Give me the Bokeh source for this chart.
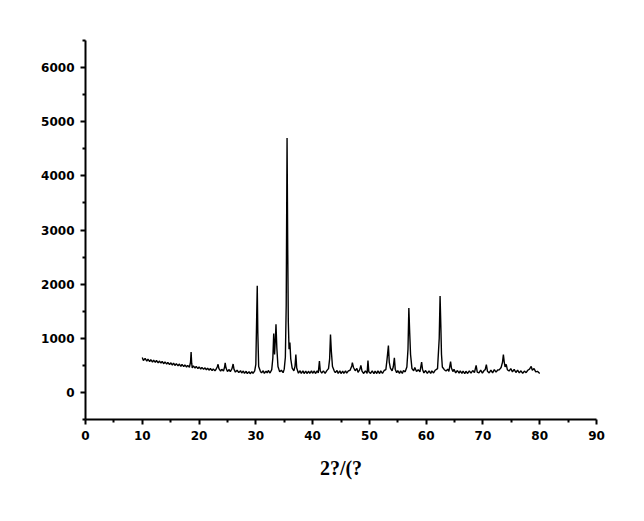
from bokeh.plotting import figure
from bokeh.models import Range1d, FixedTicker
from bokeh.embed import file_html
from bokeh.resources import INLINE

# XRD pattern: 2-theta (degrees) vs intensity (counts)
two_theta = [
    10.0, 10.2, 10.5, 10.8, 11.0, 11.3, 11.5, 11.8, 12.0, 12.3, 12.5, 12.8, 13.0, 13.3, 13.5, 13.8,
    14.0, 14.3, 14.5, 14.8, 15.0, 15.3, 15.5, 15.8, 16.0, 16.3, 16.5, 16.8, 17.0, 17.3, 17.5, 17.8,
    18.0, 18.3, 18.5, 18.6, 18.7, 18.8, 19.0, 19.3, 19.5, 19.8, 20.0, 20.3, 20.5, 20.8, 21.0, 21.3,
    21.5, 21.8, 22.0, 22.3, 22.5, 22.8, 23.0, 23.2, 23.35, 23.5, 23.8, 24.0, 24.3, 24.5, 24.6, 24.75,
    25.0, 25.3, 25.5, 25.8, 26.0, 26.15, 26.4, 26.7, 27.0, 27.3, 27.5, 27.8, 28.0, 28.3, 28.5, 28.8,
    29.0, 29.3, 29.5, 29.8, 30.0, 30.15, 30.25, 30.35, 30.5, 30.8, 31.0, 31.3, 31.5, 31.8, 32.0, 32.2,
    32.5, 32.8, 33.0, 33.15, 33.3, 33.45, 33.55, 33.7, 33.9, 34.2, 34.5, 34.8, 35.0, 35.2, 35.35, 35.5,
    35.62, 35.72, 35.85, 36.0, 36.15, 36.4, 36.7, 36.9, 37.05, 37.2, 37.5, 37.8, 38.0, 38.3, 38.5, 38.8,
    39.0, 39.3, 39.5, 39.8, 40.0, 40.3, 40.5, 40.8, 41.0, 41.2, 41.35, 41.6, 41.9, 42.2, 42.5, 42.8,
    43.0, 43.15, 43.3, 43.5, 43.8, 44.0, 44.3, 44.5, 44.8, 45.0, 45.3, 45.5, 45.8, 46.0, 46.3, 46.6,
    46.9, 47.0, 47.2, 47.5, 47.8, 48.0, 48.3, 48.5, 48.7, 49.0, 49.3, 49.6, 49.75, 49.9, 50.2, 50.5,
    50.8, 51.0, 51.3, 51.5, 51.8, 52.0, 52.3, 52.6, 52.9, 53.1, 53.35, 53.5, 53.7, 54.0, 54.2, 54.4,
    54.55, 54.8, 55.0, 55.3, 55.5, 55.8, 56.0, 56.3, 56.6, 56.8, 56.95, 57.1, 57.25, 57.5, 57.8, 58.0,
    58.3, 58.6, 58.9, 59.2, 59.35, 59.6, 59.9, 60.2, 60.5, 60.8, 61.0, 61.3, 61.6, 62.0, 62.3, 62.45,
    62.58, 62.7, 62.85, 63.2, 63.5, 63.8, 64.0, 64.3, 64.45, 64.7, 64.9, 65.2, 65.5, 65.8, 66.0, 66.3,
    66.5, 66.8, 67.0, 67.3, 67.6, 67.9, 68.2, 68.5, 68.8, 69.0, 69.3, 69.6, 69.9, 70.2, 70.4, 70.6,
    70.8, 71.1, 71.4, 71.7, 72.0, 72.3, 72.6, 72.9, 73.2, 73.45, 73.6, 73.75, 73.9, 74.1, 74.3, 74.6,
    74.9, 75.2, 75.5, 75.8, 76.1, 76.4, 76.7, 77.0, 77.3, 77.6, 77.9, 78.2, 78.5, 78.7, 79.0, 79.3,
    79.6, 80.0,
]
intensity = [
    645, 590, 630, 580, 615, 570, 605, 560, 595, 555, 590, 545, 580, 540, 572, 530,
    565, 522, 555, 512, 548, 505, 540, 498, 532, 490, 525, 482, 518, 475, 510, 470,
    500, 465, 560, 745, 540, 455, 492, 448, 482, 440, 472, 432, 462, 425, 455, 418,
    450, 410, 442, 402, 435, 398, 428, 470, 520, 440, 392, 428, 395, 470, 545, 450,
    388, 422, 382, 440, 525, 430, 375, 410, 365, 402, 358, 395, 352, 390, 348, 385,
    345, 382, 350, 400, 520, 1400, 1970, 1100, 480, 390, 360, 400, 352, 395, 360, 405,
    358, 420, 640, 1090, 700, 1000, 1260, 820, 480, 380, 410, 365, 430, 650, 1600, 4700,
    2620, 1300, 800, 920, 620, 450, 400, 480, 700, 450, 355, 400, 352, 398, 350, 395,
    348, 392, 350, 398, 355, 395, 348, 400, 360, 580, 400, 355, 398, 350, 402, 440,
    620, 1070, 760, 480, 400, 365, 405, 352, 398, 348, 395, 350, 400, 355, 398, 410,
    490, 550, 460, 400, 445, 370, 420, 500, 395, 350, 398, 352, 590, 380, 350, 398,
    345, 395, 350, 400, 348, 398, 352, 405, 420, 600, 865, 560, 450, 400, 470, 640,
    430, 365, 402, 352, 398, 350, 405, 380, 470, 800, 1560, 1100, 700, 440, 400, 460,
    385, 420, 380, 560, 430, 360, 405, 352, 400, 350, 398, 360, 410, 440, 1000, 1780,
    1250, 700, 470, 420, 395, 430, 390, 570, 450, 385, 425, 362, 405, 355, 398, 350,
    395, 345, 392, 350, 398, 355, 405, 365, 500, 375, 360, 410, 358, 405, 420, 515,
    390, 360, 412, 362, 420, 375, 415, 420, 460, 560, 700, 560, 470, 520, 420, 395,
    440, 380, 425, 368, 410, 360, 400, 352, 395, 365, 410, 430, 480, 410, 440, 380,
    390, 350,
]

x_ticks = [0, 10, 20, 30, 40, 50, 60, 70, 80, 90]
y_ticks = [0, 1000, 2000, 3000, 4000, 5000, 6000]
x_label = "2?/(?"

p = figure(width=628, height=505, output_backend="svg", toolbar_location=None,
           x_range=Range1d(0, 90), y_range=Range1d(-500, 6500),
           min_border_left=85, min_border_right=32, min_border_top=40, min_border_bottom=86)
p.outline_line_color = None
p.xgrid.visible = False
p.ygrid.visible = False
p.background_fill_color = "white"
p.border_fill_color = "white"

p.line(two_theta, intensity, line_color="black", line_width=1.4)

for ax, ticks in ((p.xaxis[0], x_ticks), (p.yaxis[0], y_ticks)):
    step = ticks[1] - ticks[0]
    ax.ticker = FixedTicker(ticks=ticks,
                            minor_ticks=[t + step / 2 for t in [ticks[0] - step] + ticks])
    ax.axis_line_width = 2
    ax.axis_line_color = "black"
    ax.major_tick_line_width = 2
    ax.minor_tick_line_width = 2
    ax.major_tick_line_color = "black"
    ax.minor_tick_line_color = "black"
    ax.major_tick_out = 5
    ax.major_tick_in = 0
    ax.minor_tick_out = 3
    ax.minor_tick_in = 0
    ax.major_label_text_font = "DejaVu Sans"
    ax.major_label_text_font_style = "bold"
    ax.major_label_text_font_size = "12px"
    ax.major_label_text_color = "black"
    ax.major_label_standoff = 6

p.xaxis[0].axis_label = x_label
p.xaxis[0].axis_label_text_font = "Liberation Serif"
p.xaxis[0].axis_label_text_font_style = "bold"
p.xaxis[0].axis_label_text_font_size = "20px"
p.xaxis[0].axis_label_text_color = "black"
p.xaxis[0].axis_label_standoff = 14

open("out.html", "w").write(file_html(p, INLINE))
